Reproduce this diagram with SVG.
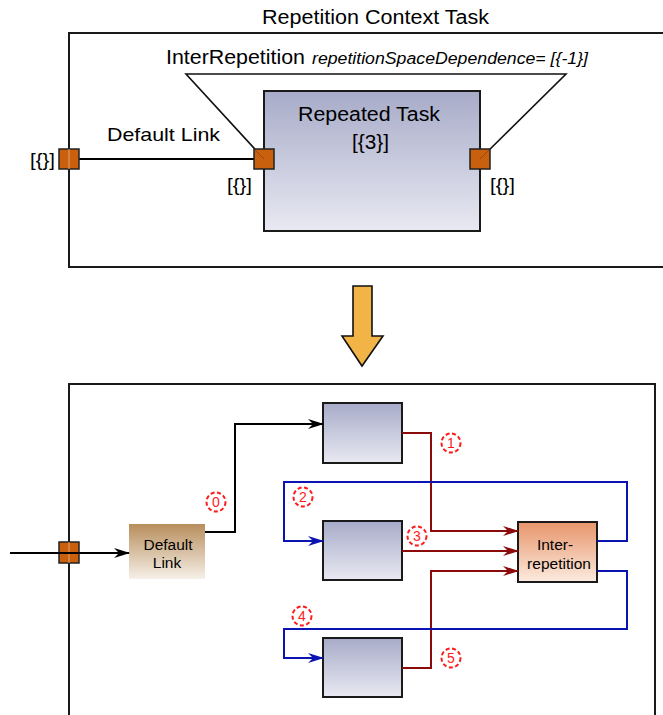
<svg xmlns="http://www.w3.org/2000/svg" width="663" height="715" viewBox="0 0 663 715">
<style>
text{font-family:"Liberation Sans",Arial,sans-serif;fill:#000}
.frame{fill:none;stroke:#1a1a1a;stroke-width:2}
.port{fill:#c8600e;stroke:#222;stroke-width:1.5}
.task{fill:url(#gTask);stroke:#1a1a1a;stroke-width:2}
.lnk{fill:none;stroke-width:2}
.blk{stroke:#000}
.red{stroke:#8b0a0a}
.blu{stroke:#0a14b0}
.num circle{fill:none;stroke:#ff1a1a;stroke-width:2;stroke-dasharray:4 2.5}
.num text{fill:#ff1a1a;font-size:14px;text-anchor:middle}
.lbl{font-size:19px}
.nodetxt{font-size:15.5px;text-anchor:middle}
</style>
<defs>
<linearGradient id="gTask" x1="0" y1="0" x2="0" y2="1">
<stop offset="0" stop-color="#a7abc8"/><stop offset="1" stop-color="#e9e9f2"/>
</linearGradient>
<linearGradient id="gDef" x1="0" y1="0" x2="0" y2="1">
<stop offset="0" stop-color="#b88e5c"/><stop offset="1" stop-color="#f6f0e8"/>
</linearGradient>
<linearGradient id="gInter" x1="0" y1="0" x2="0" y2="1">
<stop offset="0" stop-color="#e7956a"/><stop offset="1" stop-color="#fcebe0"/>
</linearGradient>
<marker id="aBlk" viewBox="0 0 16 10" refX="15" refY="5" markerWidth="16" markerHeight="10" markerUnits="userSpaceOnUse" orient="auto"><path d="M0,0 L16,5 L0,10 L5,5 z" fill="#000"/></marker>
<marker id="aRed" viewBox="0 0 16 10" refX="15" refY="5" markerWidth="16" markerHeight="10" markerUnits="userSpaceOnUse" orient="auto"><path d="M0,0 L16,5 L0,10 L5,5 z" fill="#8b0a0a"/></marker>
<marker id="aBlu" viewBox="0 0 16 10" refX="15" refY="5" markerWidth="16" markerHeight="10" markerUnits="userSpaceOnUse" orient="auto"><path d="M0,0 L16,5 L0,10 L5,5 z" fill="#0a14b0"/></marker>
</defs>

<!-- Top part -->
<g id="context-task">
<text x="262" y="24" font-size="20" textLength="227" lengthAdjust="spacingAndGlyphs">Repetition Context Task</text>
<path class="frame" d="M663,33 H69 V267 H663"/>
</g>
<g id="inter-repetition-label">
<text x="166" y="64" font-size="20" textLength="139" lengthAdjust="spacingAndGlyphs">InterRepetition</text>
<text x="312" y="64" font-size="16" font-style="italic" textLength="276" lengthAdjust="spacingAndGlyphs">repetitionSpaceDependence= [{-1}]</text>
</g>
<g id="repeated-task">
<rect class="task" x="264" y="91" width="216" height="140"/>
<text x="298" y="121" font-size="20" textLength="142" lengthAdjust="spacingAndGlyphs">Repeated Task</text>
<text x="352" y="149" font-size="20" textLength="37" lengthAdjust="spacingAndGlyphs">[{3}]</text>
</g>
<g id="connectors-top">
<path class="lnk blk" d="M79,159 H254"/>
<path fill="none" stroke="#111" stroke-width="1.6" d="M264,159 L186,74 H566 L480,159"/>
<text x="107" y="141" class="lbl" textLength="113" lengthAdjust="spacingAndGlyphs">Default Link</text>
</g>
<g id="port-outer">
<rect class="port" x="59" y="149" width="20" height="20"/>
<line x1="69" y1="149" x2="69" y2="169" stroke="#e8a070" stroke-width="1"/>
<text x="30" y="166" class="lbl" textLength="25" lengthAdjust="spacingAndGlyphs">[{}]</text>
</g>
<g id="port-in">
<rect class="port" x="254" y="149" width="20" height="20"/>
<line x1="255" y1="150" x2="264" y2="159" stroke="#9a4a10" stroke-width="1"/>
<text x="227" y="191" class="lbl" textLength="25" lengthAdjust="spacingAndGlyphs">[{}]</text>
</g>
<g id="port-out">
<rect class="port" x="470" y="149" width="20" height="20"/>
<line x1="489" y1="150" x2="480" y2="159" stroke="#9a4a10" stroke-width="1"/>
<text x="490" y="191" class="lbl" textLength="25" lengthAdjust="spacingAndGlyphs">[{}]</text>
</g>

<!-- transform arrow -->
<g id="transform-arrow">
<path d="M353,286 H372 V336 H383 L362,366 L342,336 H353 Z" fill="#f2b446" stroke="#111" stroke-width="1.6"/>
</g>

<!-- Bottom part -->
<g id="expanded-frame">
<path class="frame" d="M69,715 V384 H655 V715"/>
</g>
<g id="port-bottom">
<rect class="port" x="59" y="542" width="20" height="21"/>
<line x1="69" y1="542" x2="69" y2="563" stroke="#e8a070" stroke-width="1"/>
</g>
<g id="default-link-node">
<rect x="129" y="524" width="76" height="55" fill="url(#gDef)"/>
<text x="168" y="550" class="nodetxt">Default</text>
<text x="167" y="568" class="nodetxt">Link</text>
</g>
<g id="task-1">
<rect class="task" x="323" y="403" width="79" height="60"/>
</g>
<g id="task-2">
<rect class="task" x="323" y="521" width="79" height="59"/>
</g>
<g id="task-3">
<rect class="task" x="323" y="638" width="79" height="59"/>
</g>
<g id="inter-repetition-node">
<rect x="518" y="522" width="79" height="60" fill="url(#gInter)" stroke="#1a1a1a" stroke-width="2"/>
<text x="555" y="550" class="nodetxt">Inter-</text>
<text x="559" y="569" class="nodetxt">repetition</text>
</g>

<g id="connectors">
<path class="lnk blk" d="M10,553 H129" marker-end="url(#aBlk)"/>
<path class="lnk blk" d="M205,532 H235 V424 H323" marker-end="url(#aBlk)"/>
<path class="lnk red" d="M402,433 H431 V531 H518" marker-end="url(#aRed)"/>
<path class="lnk red" d="M402,551 H518" marker-end="url(#aRed)"/>
<path class="lnk red" d="M402,668 H431 V571 H518" marker-end="url(#aRed)"/>
<path class="lnk blu" d="M597,541 H627 V482 H284 V541 H323" marker-end="url(#aBlu)"/>
<path class="lnk blu" d="M597,571 H627 V629 H284 V658 H323" marker-end="url(#aBlu)"/>
</g>

<g id="step-numbers">
<g class="num"><circle cx="216" cy="502" r="9.5"/><text x="216" y="507">0</text></g>
<g class="num"><circle cx="451" cy="443" r="9.5"/><text x="451" y="448">1</text></g>
<g class="num"><circle cx="303" cy="497" r="9.5"/><text x="303" y="502">2</text></g>
<g class="num"><circle cx="417" cy="536" r="9.5"/><text x="417" y="541">3</text></g>
<g class="num"><circle cx="302" cy="616" r="9.5"/><text x="302" y="621">4</text></g>
<g class="num"><circle cx="451" cy="658" r="9.5"/><text x="451" y="663">5</text></g>
</g>
</svg>
